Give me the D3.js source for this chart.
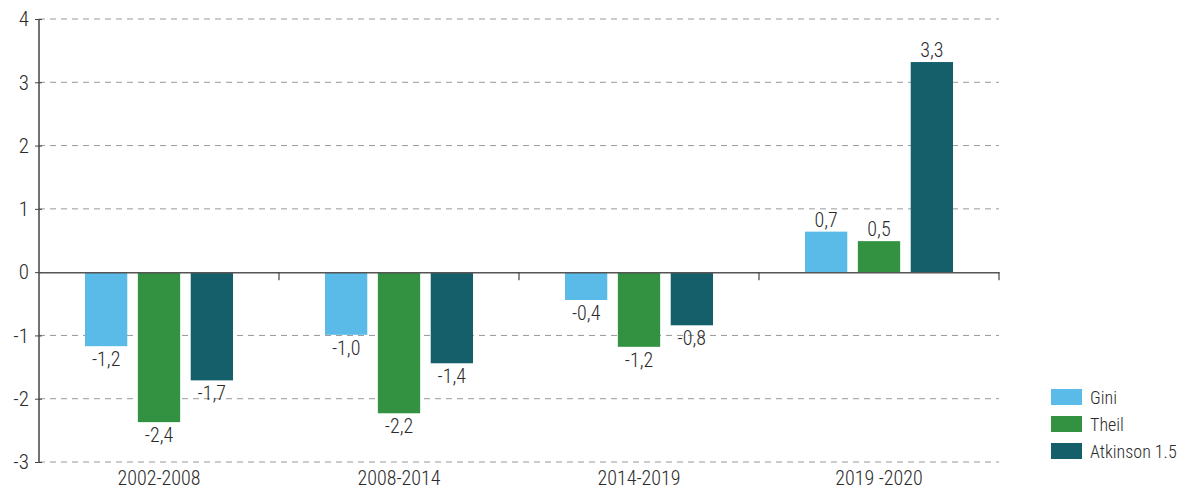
<!DOCTYPE html>
<html><head><meta charset="utf-8">
<script src="https://cdn.jsdelivr.net/npm/d3@7"></script>
<style>
body{margin:0;background:#fff;}
text{font-family:"Roboto Condensed","Liberation Sans Narrow",Roboto,sans-serif;font-weight:300;fill:#2b2b2b;}
</style></head>
<body><svg id="c" width="1184" height="490"></svg>
<script>
const categories = ["2002-2008","2008-2014","2014-2019","2019 -2020"];
const seriesNames = ["Gini","Theil","Atkinson 1.5"];
const gini = [-1.17,-0.99,-0.44,0.64];
const theil = [-2.37,-2.23,-1.18,0.49];
const atkinson = [-1.71,-1.44,-0.84,3.32];
const labelsGini = ["-1,2","-1,0","-0,4","0,7"];
const labelsTheil = ["-2,4","-2,2","-1,2","0,5"];
const labelsAtk = ["-1,7","-1,4","-0,8","3,3"];
const yTicks = [-3,-2,-1,0,1,2,3,4];
const colors = ["#5bbbe8","#339242","#155f6b"];

const svg = d3.select("#c");
const x0 = d3.scaleBand().domain(categories).range([39,999]).paddingInner(0).paddingOuter(0);
const x1 = d3.scaleBand().domain(seriesNames).range([46,194]).paddingInner(0.2);
const y = d3.scaleLinear().domain([-3,4]).range([462,19]);

// gridlines
svg.append("g").selectAll("line").data(yTicks.filter(d=>d!==0)).join("line")
  .attr("x1",39).attr("x2",999).attr("y1",d=>y(d)).attr("y2",d=>y(d))
  .attr("stroke","#999").attr("stroke-width",1).attr("stroke-dasharray","6,5");

const series = [gini,theil,atkinson];
const labels = [labelsGini,labelsTheil,labelsAtk];
const g = svg.append("g");
series.forEach((vals,si)=>{
  g.selectAll(null).data(vals).join("rect")
    .attr("x",(d,i)=>x0(categories[i])+x1(seriesNames[si]))
    .attr("width",x1.bandwidth())
    .attr("y",d=>y(Math.max(0,d)))
    .attr("height",d=>Math.abs(y(d)-y(0)))
    .attr("fill",colors[si]);
  g.selectAll(null).data(vals).join("text")
    .attr("x",(d,i)=>x0(categories[i])+x1(seriesNames[si])+x1.bandwidth()/2)
    .attr("y",(d)=> d<0 ? y(d)+20 : y(d)-5)
    .attr("text-anchor","middle").attr("font-size","20px")
    .text((d,i)=>labels[si][i]);
});

// y axis
const yAxis = svg.append("g").attr("transform","translate(39,0)")
  .call(d3.axisLeft(y).tickValues(yTicks).tickSize(4).tickFormat(d=>String(d)));
yAxis.select(".domain").attr("stroke","#444").attr("stroke-width",1.5).attr("d","M0,"+y(4)+"V"+y(-3));
yAxis.selectAll(".tick line").attr("stroke","#444").attr("x2",3).attr("x1",-4);
yAxis.selectAll(".tick text").attr("font-size","21px").attr("fill","#2b2b2b").attr("x",-10)
  .attr("font-family",null);

// x axis at 0
const xAxis = svg.append("g").attr("transform","translate(0,"+y(0)+")")
  .call(d3.axisBottom(x0).tickSize(0).tickFormat(""));
xAxis.select(".domain").attr("stroke","#555").attr("stroke-width",1.5);
xAxis.selectAll(".tick").remove();
const bounds = categories.map(c=>x0(c)+x0.bandwidth());
xAxis.selectAll("line.sep").data(bounds).join("line").attr("class","sep")
  .attr("x1",d=>d).attr("x2",d=>d).attr("y1",0).attr("y2",8).attr("stroke","#444").attr("stroke-width",1.2);

// category labels
svg.append("g").selectAll("text").data(categories).join("text")
  .attr("x",d=>x0(d)+x0.bandwidth()/2).attr("y",485)
  .attr("text-anchor","middle").attr("font-size","20px").text(d=>d);

// legend
const lg = svg.append("g").attr("transform","translate(1051,389)");
seriesNames.forEach((s,i)=>{
  lg.append("rect").attr("x",0).attr("y",i*27).attr("width",31).attr("height",16).attr("fill",colors[i]);
  lg.append("text").attr("x",39).attr("y",i*27+15).attr("font-size","18px").text(s);
});
</script></body></html>
